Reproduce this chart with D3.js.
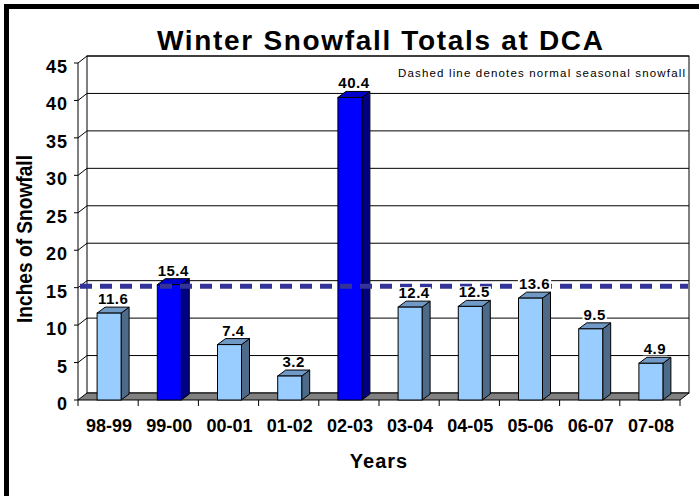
<!DOCTYPE html>
<html>
<head>
<meta charset="utf-8">
<script src="https://cdn.jsdelivr.net/npm/d3@7"></script>
<style>
  body { margin: 0; background: #fff; }
  text { font-family: "Liberation Sans", Arial, sans-serif; }
</style>
</head>
<body>
<script>
// season labels and snowfall (inches) at DCA
var years  = ["98-99", "99-00", "00-01", "01-02", "02-03", "03-04", "04-05", "05-06", "06-07", "07-08"]
var snow   = [11.6, 15.4, 7.4, 3.2, 40.4, 12.4, 12.5, 13.6, 9.5, 4.9]
var yTicks = [0, 5, 10, 15, 20, 25, 30, 35, 40, 45]
var normal = 15.2

width  = 699
height = 496

// depth offset of the 3d wall / bars
var dx = 9, dy = 7
var barW = 24, barD = 8, barH = 6

var svg = d3.select("body").append("svg")
  .attr("width", width)
  .attr("height", height)

// black frame bits (top + left)
svg.append("rect").attr("x", 4).attr("y", 4).attr("width", width - 4).attr("height", 5).attr("fill", "#000")
svg.append("rect").attr("x", 4).attr("y", 4).attr("width", 5).attr("height", height - 4).attr("fill", "#000")

var x = d3.scaleBand().domain(years).range([78, 680])
var y = d3.scaleLinear().domain([0, 45]).range([400, 63])

// back wall
var wall = svg.append("g")
wall.append("rect")
  .attr("x", 78 + dx).attr("y", y(45) - dy)
  .attr("width", 680 - 78).attr("height", y(0) - y(45))
  .attr("fill", "#fff").attr("stroke", "#000")

// gridlines: diagonal on the side wall then across the back
wall.selectAll("path.grid")
  .data(yTicks.filter(d => d > 0))
  .enter().append("path")
    .attr("class", "grid")
    .attr("fill", "none")
    .attr("stroke", "#000")
    .attr("d", d => `M78,${y(d)}L${78 + dx},${y(d) - dy}H${680 + dx}`)

// floor
svg.append("path")
  .attr("d", `M78,${y(0)}H680L${680 + dx},${y(0) - dy}H${78 + dx}Z`)
  .attr("fill", "#808080")
  .attr("stroke", "#000")

// front y axis
svg.append("line")
  .attr("x1", 78).attr("x2", 78)
  .attr("y1", y(45)).attr("y2", y(0))
  .attr("stroke", "#000")
svg.selectAll("line.ytick")
  .data(yTicks)
  .enter().append("line")
    .attr("class", "ytick")
    .attr("x1", 74).attr("x2", 78)
    .attr("y1", d => y(d)).attr("y2", d => y(d))
    .attr("stroke", "#000")
svg.selectAll("text.ylab")
  .data(yTicks)
  .enter().append("text")
    .attr("class", "ylab")
    .attr("x", 68)
    .attr("y", d => y(d) + 10)
    .attr("text-anchor", "end")
    .attr("font-size", 18)
    .attr("font-weight", "bold")
    .attr("letter-spacing", 1)
    .text(d => d)

// x ticks at band edges
var edges = years.map(d => x(d)).concat([680])
svg.selectAll("line.xtick")
  .data(edges)
  .enter().append("line")
    .attr("class", "xtick")
    .attr("x1", d => d).attr("x2", d => d)
    .attr("y1", y(0)).attr("y2", y(0) + 6)
    .attr("stroke", "#000")

svg.selectAll("text.xlab")
  .data(years)
  .enter().append("text")
    .attr("class", "xlab")
    .attr("x", d => x(d) + x.bandwidth() / 2 + 1)
    .attr("y", 432)
    .attr("text-anchor", "middle")
    .attr("font-size", 18)
    .attr("font-weight", "bold")
    .text(d => d)

// bars
var bars = years.map((d, i) => ({year: d, v: snow[i], hi: snow[i] > normal}))

function bx(d) { return x(d.year) + (x.bandwidth() - barW) / 2 + 1 }

var g = svg.append("g").selectAll("g")
  .data(bars)
  .enter().append("g")
    .attr("stroke", "#000")
    .attr("stroke-width", 1)

// side
g.append("path")
  .attr("fill", d => d.hi ? "#000080" : "#4d6a88")
  .attr("d", d => {
    var x0 = bx(d) + barW, t = y(d.v), b = y(0)
    return `M${x0},${b}V${t}L${x0 + barD},${t - barH}V${b - barH}Z`
  })
// top
g.append("path")
  .attr("fill", d => d.hi ? "#0000cc" : "#7099c6")
  .attr("d", d => {
    var x0 = bx(d), t = y(d.v)
    return `M${x0},${t}L${x0 + barD},${t - barH}H${x0 + barW + barD}L${x0 + barW},${t}Z`
  })
// front
g.append("rect")
  .attr("x", d => bx(d))
  .attr("y", d => y(d.v))
  .attr("width", barW)
  .attr("height", d => y(0) - y(d.v))
  .attr("fill", d => d.hi ? "#0000ff" : "#99ccff")

// normal seasonal snowfall
svg.append("line")
  .attr("x1", 80).attr("x2", 688)
  .attr("y1", y(normal)).attr("y2", y(normal))
  .attr("stroke", "#333399")
  .attr("stroke-width", 5)
  .attr("stroke-dasharray", "12,8")

// value labels with white boxes
var lab = svg.append("g").selectAll("g")
  .data(bars)
  .enter().append("g")
lab.append("text")
  .attr("x", d => bx(d) + (barW + barD) / 2)
  .attr("y", d => y(d.v) - barH - 3)
  .attr("text-anchor", "middle")
  .attr("font-size", 15)
  .attr("font-weight", "bold")
  .attr("letter-spacing", 0.5)
  .text(d => d.v.toFixed(1))
lab.each(function() {
  var t = d3.select(this).select("text")
  var bb = t.node().getBBox()
  d3.select(this).insert("rect", "text")
    .attr("x", bb.x - 1).attr("y", bb.y + 3)
    .attr("width", bb.width + 2).attr("height", bb.height - 5)
    .attr("fill", "#fff")
})

// titles
svg.append("text")
  .attr("x", 380).attr("y", 50)
  .attr("text-anchor", "middle")
  .attr("font-size", 28)
  .attr("font-weight", "bold")
  .attr("textLength", 446)
  .attr("lengthAdjust", "spacing")
  .text("Winter Snowfall Totals at DCA")

svg.append("text")
  .attr("x", 685).attr("y", 77)
  .attr("text-anchor", "end")
  .attr("font-size", 11.5)
  .attr("textLength", 287)
  .attr("lengthAdjust", "spacing")
  .text("Dashed line denotes normal seasonal snowfall")

svg.append("text")
  .attr("transform", "translate(32,239) rotate(-90)")
  .attr("text-anchor", "middle")
  .attr("font-size", 22)
  .attr("font-weight", "bold")
  .attr("textLength", 168)
  .attr("lengthAdjust", "spacingAndGlyphs")
  .text("Inches of Snowfall")

svg.append("text")
  .attr("x", 379).attr("y", 468)
  .attr("text-anchor", "middle")
  .attr("font-size", 20)
  .attr("font-weight", "bold")
  .attr("letter-spacing", 1)
  .text("Years")
</script>
</body>
</html>
